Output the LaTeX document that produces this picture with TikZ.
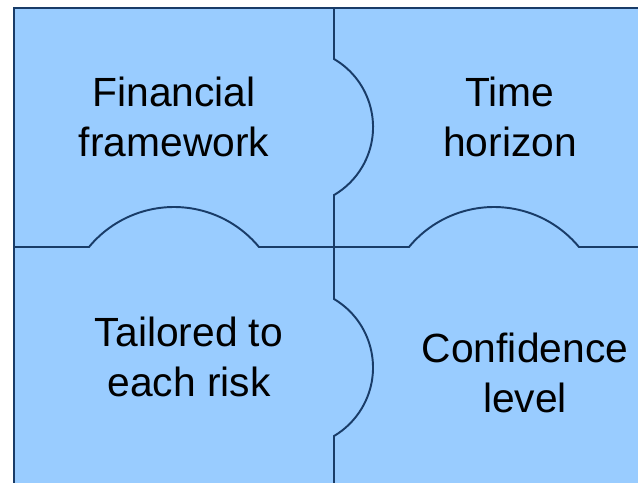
\documentclass[tikz,border=0pt]{standalone}
\usepackage{fontspec}
\setmainfont{Liberation Sans}
\definecolor{piecefill}{RGB}{153,204,255}
\definecolor{pieceline}{RGB}{25,60,104}

\begin{document}
\begin{tikzpicture}[scale=0.2,
		edge/.style={draw=pieceline, line width=1.1pt},
		rim/.style={draw=pieceline, line width=1.4pt},
		label/.style={align=center, font=\fontsize{23.2}{28.35}\selectfont}]
			\tikzstyle{every node}+=[inner sep=0pt]
			\useasboundingbox (0,0) rectangle (63.8,-48.3);
			\fill [piecefill] (1.4,-0.8) rectangle (63.8,-48.3);
			% tabs between the four pieces
			\draw [edge] (1.4,-24.7) -- (8.9,-24.7) arc (140.4:39.6:11.03) -- (40.9,-24.7) arc (140.4:39.6:11.03) -- (63.8,-24.7);
			\draw [edge] (33.4,-0.8) -- (33.4,-5.9) arc (59.7:-59.7:7.88) -- (33.4,-29.9) arc (59.3:-59.3:7.97) -- (33.4,-48.3);
			\draw [rim] (63.8,-0.8) -- (1.4,-0.8) -- (1.4,-48.3);
			\node [label] (fin) at (17.4,-11.7) {Financial\\framework};
			\node [label] (time) at (51,-11.7) {Time\\horizon};
			\node [label] (risk) at (18.9,-35.7) {Tailored to\\each risk};
			\node [label] (conf) at (52.5,-37.3) {Confidence\\level};
\end{tikzpicture}
\end{document}
